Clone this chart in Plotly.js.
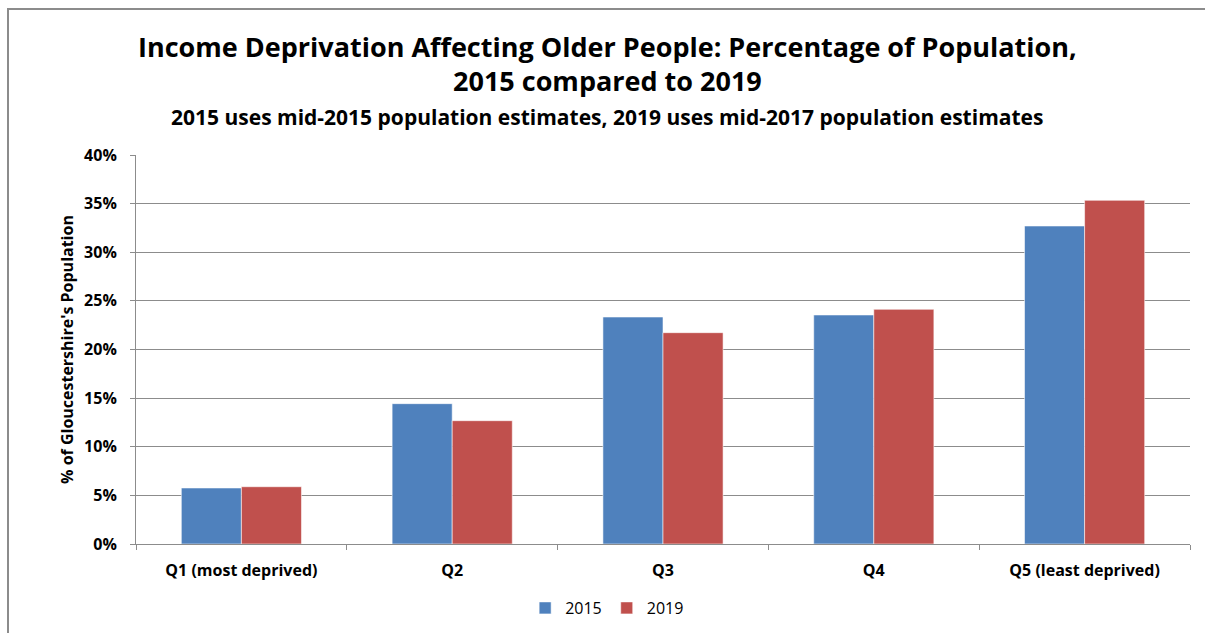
<!DOCTYPE html>
<html>
<head>
<meta charset="utf-8">
<script src="https://cdn.plot.ly/plotly-3.0.1.min.js"></script>
<style>
  html, body { margin: 0; padding: 0; background: #fff; overflow: hidden; }
  #frame { position: absolute; left: 7px; top: 8px; width: 1300px; height: 700px;
           border-left: 2px solid #8c8c8c; border-top: 2px solid #8c8c8c; pointer-events: none; }
  #chart { position: absolute; left: 0; top: 0; width: 1205px; height: 633px; }
</style>
</head>
<body>
<div id="chart"></div>
<div id="frame"></div>
<script>
// Quintiles of income deprivation affecting older people
const categories = ['Q1 (most deprived)', 'Q2', 'Q3', 'Q4', 'Q5 (least deprived)'];
const pct2015 = [5.76, 14.43, 23.34, 23.55, 32.70];
const pct2019 = [5.89, 12.68, 21.73, 24.13, 35.34];
const seriesNames = ['2015', '2019'];
const yTicks = [0, 5, 10, 15, 20, 25, 30, 35, 40];

const FONT = 'Open Sans, Noto Sans, sans-serif';

const barLine = { color: 'rgba(255,255,255,0.55)', width: 1 };

const traces = [
  { type: 'bar', name: seriesNames[0], x: categories, y: pct2015,
    marker: { color: '#4F81BD', line: barLine } },
  { type: 'bar', name: seriesNames[1], x: categories, y: pct2019,
    marker: { color: '#C0504D', line: barLine } }
];

const layout = {
  width: 1205, height: 633, autosize: false,
  margin: { l: 136, r: 15, t: 155, b: 89, autoexpand: false },
  paper_bgcolor: 'rgba(0,0,0,0)', plot_bgcolor: '#fff',
  barmode: 'group', bargap: 0.43, bargroupgap: 0,
  showlegend: true,
  legend: { orientation: 'h', x: 0.447, xanchor: 'center', y: -64 / 389, yanchor: 'middle',
            font: { family: FONT, size: 16, color: '#000' }, itemwidth: 30 },
  xaxis: {
    type: 'category', tickson: 'boundaries', ticks: 'outside', ticklen: 5, tickangle: 0,
    ticklabelstandoff: 12,
    tickcolor: '#8c8c8c', showline: true, linecolor: '#8c8c8c', linewidth: 1,
    showgrid: false, tickfont: { family: FONT, size: 16, color: '#000', weight: 'bold' },
    automargin: false, fixedrange: true
  },
  yaxis: {
    range: [0, 40], tickvals: yTicks, ticktext: yTicks.map(v => v + '%'),
    ticks: 'outside', ticklen: 5, tickcolor: '#8c8c8c', ticklabelstandoff: 10,
    showline: true, linecolor: '#8c8c8c', linewidth: 1,
    showgrid: true, gridcolor: '#8c8c8c', gridwidth: 1, zeroline: false,
    tickfont: { family: FONT, size: 16, color: '#000', weight: 'bold' },
    title: { text: "% of Gloucestershire's Population", standoff: 6,
             font: { family: FONT, size: 16, color: '#000', weight: 'bold' } },
    automargin: false, fixedrange: true
  },
  annotations: [
    { text: 'Income Deprivation Affecting Older People: Percentage of Population,',
      xref: 'paper', yref: 'paper', x: 0.447, y: 1 + (155 - 46) / 389, showarrow: false,
      yanchor: 'middle', font: { family: FONT, size: 27, color: '#000', weight: 'bold' } },
    { text: '2015 compared to 2019',
      xref: 'paper', yref: 'paper', x: 0.447, y: 1 + (155 - 80) / 389, showarrow: false,
      yanchor: 'middle', font: { family: FONT, size: 27, color: '#000', weight: 'bold' } },
    { text: '2015 uses mid-2015 population estimates, 2019 uses mid-2017 population estimates',
      xref: 'paper', yref: 'paper', x: 0.447, y: 1 + (155 - 117) / 389, showarrow: false,
      yanchor: 'middle', font: { family: FONT, size: 21, color: '#000', weight: 'bold' } }
  ]
};

Plotly.newPlot('chart', traces, layout, { displayModeBar: false, staticPlot: true });
</script>
</body>
</html>
